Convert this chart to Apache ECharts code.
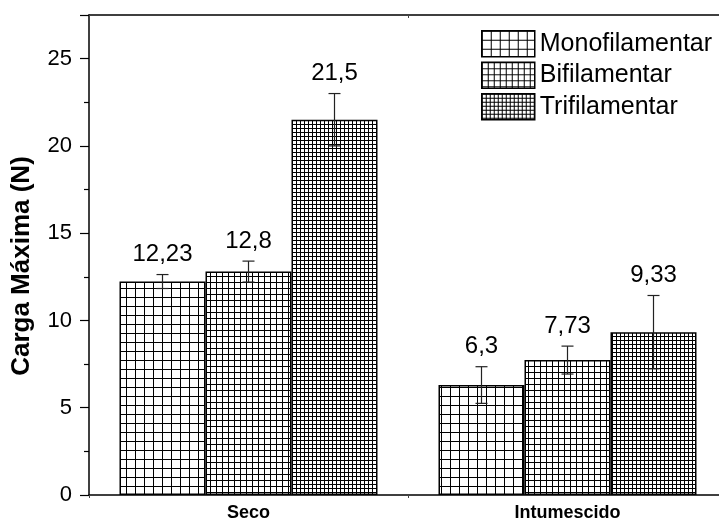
<!DOCTYPE html>
<html>
<head>
<meta charset="utf-8">
<script src="https://cdn.jsdelivr.net/npm/echarts@6/dist/echarts.min.js"></script>
<style>
  html, body { margin: 0; padding: 0; background: #fff; }
  #chart { width: 719px; height: 525px; }
</style>
</head>
<body>
<div id="chart"></div>
<script>
// Maximum load per condition and filament type
const categories = ['Seco', 'Intumescido'];
const seriesNames = ['Monofilamentar', 'Bifilamentar', 'Trifilamentar'];
const monoValues = [12.23, 6.3];
const biValues = [12.8, 7.73];
const triValues = [21.5, 9.33];
const monoErrors = [0.4, 1.05];
const biErrors = [0.6, 0.8];
const triErrors = [1.5, 2.1];
const yTicks = [0, 5, 10, 15, 20, 25];

const FONT = '"Liberation Sans", Arial, sans-serif';

// square grid hatch used as bar fill
function gridPattern(cell) {
  const c = document.createElement('canvas');
  c.width = cell; c.height = cell;
  const ctx = c.getContext('2d');
  ctx.fillStyle = '#fff';
  ctx.fillRect(0, 0, cell, cell);
  ctx.fillStyle = '#000';
  ctx.fillRect(0, 0, 1, cell);
  ctx.fillRect(0, 0, cell, 1);
  return { image: c, repeat: 'repeat' };
}

const fills = [gridPattern(9), gridPattern(6), gridPattern(4)];
const valueSets = [monoValues, biValues, triValues];
const errorSets = [monoErrors, biErrors, triErrors];

const chart = echarts.init(document.getElementById('chart'), null, { renderer: 'canvas' });

const BAR_W = 86;

const barSeries = seriesNames.map((name, i) => ({
  name: name,
  type: 'bar',
  barWidth: BAR_W,
  barGap: '0%',
  data: valueSets[i],
  itemStyle: { color: fills[i], borderColor: '#000', borderWidth: 1.5 },
  emphasis: { disabled: true },
  z: 2
}));

// error bars with value labels on top
const errorSeries = seriesNames.map((name, i) => ({
  type: 'custom',
  name: name + ' err',
  z: 5,
  data: valueSets[i].map((v, k) => [k, v, errorSets[i][k]]),
  renderItem: function (params, api) {
    const k = api.value(0);
    const v = api.value(1);
    const e = api.value(2);
    const base = api.coord([k, v]);
    const offset = (i - 1) * BAR_W;
    const x = base[0] + offset;
    const top = api.coord([k, v + e])[1];
    const bot = api.coord([k, v - e])[1];
    const cap = 6;
    const st = { stroke: '#222', lineWidth: 1.2 };
    return {
      type: 'group',
      children: [
        { type: 'line', shape: { x1: x, y1: top, x2: x, y2: bot }, style: st },
        { type: 'line', shape: { x1: x - cap, y1: top, x2: x + cap, y2: top }, style: st },
        { type: 'line', shape: { x1: x - cap, y1: bot, x2: x + cap, y2: bot }, style: st },
        {
          type: 'text',
          x: x, y: top - 8,
          style: {
            text: String(v).replace('.', ','),
            fontFamily: FONT, fontSize: 24, fill: '#000',
            align: 'center', verticalAlign: 'bottom'
          }
        }
      ]
    };
  }
}));

chart.setOption({
  animation: false,
  backgroundColor: '#fff',
  grid: { left: 89, top: 15, width: 638, height: 480, outerBoundsMode: 'none', containLabel: false },
  legend: {
    data: seriesNames.map(n => ({ name: n, icon: 'rect' })),
    orient: 'vertical',
    left: 476,
    top: 25,
    itemWidth: 53,
    itemHeight: 26,
    itemGap: 4,
    selectedMode: false,
    itemStyle: { borderColor: '#000', borderWidth: 1.5 },
    textStyle: { fontFamily: FONT, fontSize: 25, color: '#000' }
  },
  xAxis: [{
    type: 'category',
    data: categories,
    position: 'bottom',
    axisLine: { lineStyle: { color: '#000', width: 1.5 } },
    axisTick: { show: true, length: 3, inside: false, lineStyle: { color: '#444' } },
    axisLabel: { fontFamily: FONT, fontSize: 18, fontWeight: 'bold', color: '#000', margin: 9 }
  }, {
    type: 'category',
    data: categories,
    position: 'top',
    axisLine: { lineStyle: { color: '#000', width: 1.5 } },
    axisTick: { show: true, length: 3, inside: true, lineStyle: { color: '#444' } },
    axisLabel: { show: false }
  }],
  yAxis: {
    type: 'value',
    min: 0,
    max: 27.5,
    interval: 5,
    name: 'Carga Máxima (N)',
    nameLocation: 'middle',
    nameGap: 54,
    nameTextStyle: { fontFamily: FONT, fontSize: 26, fontWeight: 'bold', color: '#000', padding: [0, 22, 0, 0] },
    axisLine: { show: true, lineStyle: { color: '#000', width: 1.5 } },
    axisTick: { show: true, length: 9, lineStyle: { color: '#000', width: 1.2 } },
    minorTick: { show: true, splitNumber: 2, length: 5, lineStyle: { color: '#000', width: 1.2 } },
    splitLine: { show: false },
    axisLabel: {
      fontFamily: FONT, fontSize: 22, color: '#000', margin: 17,
      formatter: function (v) { return yTicks.indexOf(v) >= 0 ? String(v) : ''; }
    }
  },
  series: barSeries.concat(errorSeries)
});
</script>
</body>
</html>
